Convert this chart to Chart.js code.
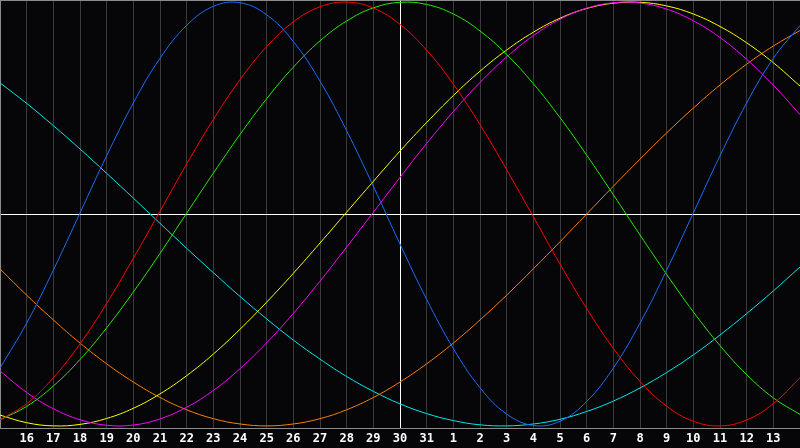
<!DOCTYPE html>
<html>
<head>
<meta charset="utf-8">
<script src="https://cdn.jsdelivr.net/npm/chart.js@4.4.0/dist/chart.umd.min.js"></script>
<style>
    html, body { margin: 0; padding: 0; background: #060608; }
    #wrap { width: 800px; height: 448px; }
</style>
</head>
<body>
<div id="wrap"><canvas id="bioChart"></canvas></div>
<script>
// Day labels (15th of month through 14th of next month)
const days = ['15', '16', '17', '18', '19', '20', '21', '22', '23', '24', '25', '26', '27', '28', '29', '30',
    '31', '1', '2', '3', '4', '5', '6', '7', '8', '9', '10', '11', '12', '13', '14'];

// Cycle values, -1 .. 1
const physical = [-0.727, -0.515, -0.265, 0.005, 0.275, 0.524, 0.735, 0.890, 0.980, 0.997, 0.940, 0.814, 0.627, 0.393, 0.131,
    -0.142, -0.403, -0.635, -0.820, -0.944, -0.998, -0.978, -0.885, -0.727, -0.515, -0.265, 0.005, 0.275, 0.524, 0.735, 0.890];
const emotional = [-0.972, -0.895, -0.773, -0.613, -0.422, -0.209, 0.013, 0.236, 0.446, 0.634, 0.790, 0.907, 0.978, 1.000, 0.972,
    0.895, 0.773, 0.613, 0.422, 0.209, -0.013, -0.236, -0.446, -0.634, -0.790, -0.907, -0.978, -1.000, -0.972, -0.895, -0.773];
const intellectual = [-0.971, -0.908, -0.812, -0.687, -0.537, -0.368, -0.186, 0.004, 0.193, 0.375, 0.544, 0.693, 0.817, 0.911, 0.973,
    0.999, 0.989, 0.944, 0.864, 0.753, 0.615, 0.455, 0.278, 0.091, -0.099, -0.285, -0.462, -0.621, -0.758, -0.868, -0.946];
const intuitive = [-0.741, -0.842, -0.919, -0.971, -0.997, -0.996, -0.967, -0.912, -0.833, -0.730, -0.608, -0.469, -0.317, -0.156, 0.008,
    0.173, 0.333, 0.483, 0.621, 0.741, 0.842, 0.919, 0.971, 0.997, 0.996, 0.967, 0.912, 0.833, 0.730, 0.608, 0.469];
const aesthetic = [-0.949, -0.985, -1.000, -0.993, -0.965, -0.917, -0.849, -0.763, -0.661, -0.544, -0.416, -0.280, -0.137, 0.009, 0.154,
    0.297, 0.432, 0.559, 0.674, 0.774, 0.858, 0.924, 0.970, 0.995, 0.999, 0.982, 0.944, 0.885, 0.808, 0.714, 0.604];
const awareness = [-0.259, -0.383, -0.500, -0.609, -0.707, -0.793, -0.866, -0.924, -0.966, -0.991, -1.000, -0.991, -0.966, -0.924, -0.866,
    -0.793, -0.707, -0.609, -0.500, -0.383, -0.259, -0.131, 0.000, 0.131, 0.259, 0.383, 0.500, 0.609, 0.707, 0.793, 0.866];
const spiritual = [0.619, 0.522, 0.417, 0.307, 0.192, 0.075, -0.044, -0.162, -0.277, -0.389, -0.495, -0.595, -0.685, -0.767, -0.837,
    -0.896, -0.942, -0.975, -0.995, -1.000, -0.991, -0.969, -0.932, -0.883, -0.821, -0.748, -0.665, -0.571, -0.470, -0.363, -0.250];

const todayIndex = 15;

function line(label, data, color) {
    return {
        label: label,
        data: data,
        borderColor: color,
        borderWidth: 1,
        pointRadius: 0,
        pointHoverRadius: 0,
        tension: 0.4,
        fill: false
    };
}

document.addEventListener('DOMContentLoaded', function() {
    const ctx = document.getElementById('bioChart').getContext('2d');
    new Chart(ctx, {
        type: 'line',
        data: {
            labels: days,
            datasets: [
                line('Physical', physical, '#1a6cff'),
                line('Emotional', emotional, '#ff0000'),
                line('Intellectual', intellectual, '#22ee00'),
                line('Intuitive', intuitive, '#ff00ff'),
                line('Aesthetic', aesthetic, '#ffff00'),
                line('Awareness', awareness, '#ff7f00'),
                line('Spiritual', spiritual, '#00e8e8')
            ]
        },
        options: {
            responsive: true,
            maintainAspectRatio: false,
            animation: false,
            devicePixelRatio: 1,
            layout: { padding: 0, autoPadding: false },
            plugins: {
                legend: { display: false },
                tooltip: { enabled: false }
            },
            scales: {
                x: {
                    offset: false,
                    afterFit: function(scale) {
                        scale.height = 20;
                        scale.paddingLeft = 0;
                        scale.paddingRight = 0;
                    },
                    border: { color: '#8a8a8a', width: 1 },
                    grid: {
                        drawTicks: false,
                        color: function(c) {
                            return c.index === todayIndex ? '#ffffff' : '#3a3a3a';
                        }
                    },
                    ticks: {
                        autoSkip: false,
                        maxRotation: 0,
                        padding: 5,
                        color: '#ffffff',
                        font: { family: 'DejaVu Sans Mono', size: 12, weight: 'bold', lineHeight: 1 },
                        callback: function(value, index) {
                            if (index === 0 || index === days.length - 1) return '';
                            return days[index];
                        }
                    }
                },
                y: {
                    min: -1.01,
                    max: 1.01,
                    afterFit: function(scale) { scale.width = 0; },
                    afterBuildTicks: function(scale) {
                        scale.ticks = [{ value: -1.01 }, { value: 0 }, { value: 1.01 }];
                    },
                    border: { color: '#8a8a8a', width: 1 },
                    grid: {
                        drawTicks: false,
                        color: function(c) {
                            return c.tick && c.tick.value === 0 ? '#ffffff' : '#8a8a8a';
                        }
                    },
                    ticks: { display: false }
                }
            }
        }
    });
});
</script>
</body>
</html>
